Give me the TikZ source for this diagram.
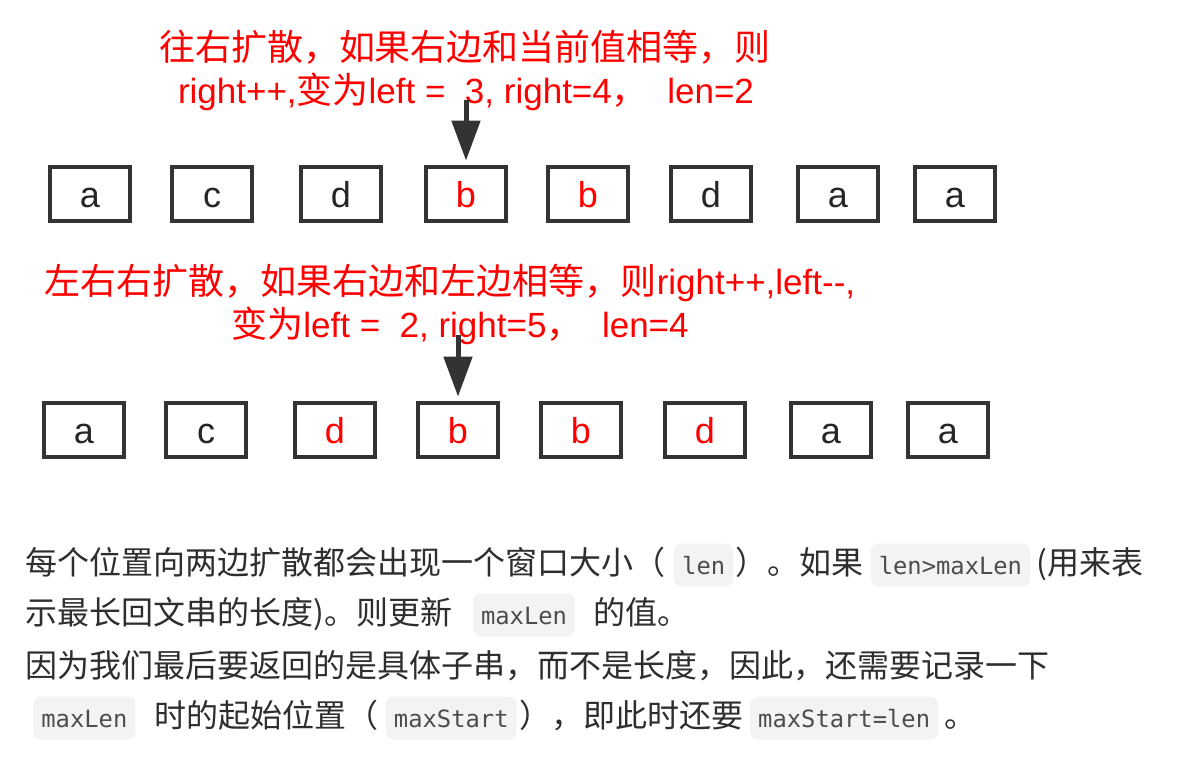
\documentclass[tikz,border=0pt]{standalone}
\usepackage{fontspec}
\setmainfont{Liberation Sans}
\newfontfamily\cjk{Noto Sans CJK SC}
\newfontfamily\codefont{DejaVu Sans Mono}
\usetikzlibrary{positioning, arrows.meta}

\definecolor{boxgray}{HTML}{333333}
\definecolor{txtgray}{HTML}{2E2E2E}
\definecolor{codegray}{HTML}{4D4D4D}
\definecolor{codebg}{HTML}{F2F3F5}

\newcommand{\zh}[1]{{\cjk\fontsize{18}{21}\selectfont #1}}

\tikzset{
  cell/.style={draw=boxgray, line width=2.4pt, minimum width=40pt, minimum height=27pt,
    inner sep=0pt, text height=13.5pt, text depth=0pt, text=black!85,
    font=\fontsize{18}{18}\selectfont},
  hit/.style={cell, text=red},
  note/.style={anchor=base, inner sep=0pt, text=red, font=\fontsize{17.5}{21}\selectfont},
  para/.style={inner sep=0pt, text=txtgray, font=\cjk\fontsize{16}{20}\selectfont},
  code/.style={fill=codebg, rounded corners=4pt, inner xsep=4pt, inner ysep=0pt,
    minimum height=21.5pt, text height=9pt, text depth=0pt, text=codegray,
    font=\codefont\fontsize{11.9}{14}\selectfont},
  pointer/.style={draw=boxgray, line width=2.5pt, shorten >=2pt,
    -{Triangle[length=20pt, width=14pt]}}
}

\begin{document}
\begin{tikzpicture}[x=0.5pt, y=-0.5pt]
    % Canvas
    \fill[white] (0,0) rectangle (1180,761);
    \useasboundingbox (0,0) rectangle (1180,761);

    % First step: expand to the right
    \node[note] (n1a) at (465,60) {\zh{往右扩散，如果右边和当前值相等，则}};
    \node[note] (n1b) at (466,103) {right++,\zh{变为}left = \ 3, right=4\zh{，}\ \ len=2};

    \foreach \ch/\cx/\sty [count=\i] in {a/90/cell, c/212/cell, d/341/cell, b/466/hit,
                                         b/588/hit, d/711/cell, a/838/cell, a/955/cell} {
        \node[\sty] (t\i) at (\cx,194) {\ch};
    }
    \coordinate (p1) at (466,100);
    \draw[pointer] (p1) -- (t4.north);

    % Second step: expand to both sides
    \node[note] (n2a) at (450,294) {\zh{左右右扩散，如果右边和左边相等，则}right++,left-{}-,};
    \node[note] (n2b) at (460,337) {\zh{变为}left = \ 2, right=5\zh{，}\ \ len=4};

    \foreach \ch/\cx/\sty [count=\i] in {a/84/cell, c/206/cell, d/335/hit, b/458/hit,
                                         b/581/hit, d/705/hit, a/831/cell, a/948/cell} {
        \node[\sty] (b\i) at (\cx,430) {\ch};
    }
    \coordinate (p2) at (458,335);
    \draw[pointer] (p2) -- (b4.north);

    % Explanation text
    \node[para, anchor=base west] (l1a) at (25,574) {每个位置向两边扩散都会出现一个窗口大小（};
    \node[code, base right=4pt of l1a] (l1b) {len};
    \node[para, base right=1pt of l1b] (l1c) {）。如果};
    \node[code, base right=3pt of l1c] (l1d) {len>maxLen};
    \node[para, base right=3pt of l1d] (l1e) {(用来表};

    \node[para, anchor=base west] (l2a) at (25,624) {示最长回文串的长度)。则更新};
    \node[code, base right=10pt of l2a] (l2b) {maxLen};
    \node[para, base right=9pt of l2b] (l2c) {的值。};

    \node[para, anchor=base west] (l3) at (25,677) {因为我们最后要返回的是具体子串，而不是长度，因此，还需要记录一下};

    \node[code, anchor=base west] (l4a) at (33,727) {maxLen};
    \node[para, base right=9pt of l4a] (l4b) {时的起始位置（};
    \node[code, base right=3.5pt of l4b] (l4c) {maxStart};
    \node[para, base right=1pt of l4c] (l4d) {），即此时还要};
    \node[code, base right=3pt of l4d] (l4e) {maxStart=len};
    \node[para, base right=3pt of l4e] (l4f) {。};
\end{tikzpicture}
\end{document}
